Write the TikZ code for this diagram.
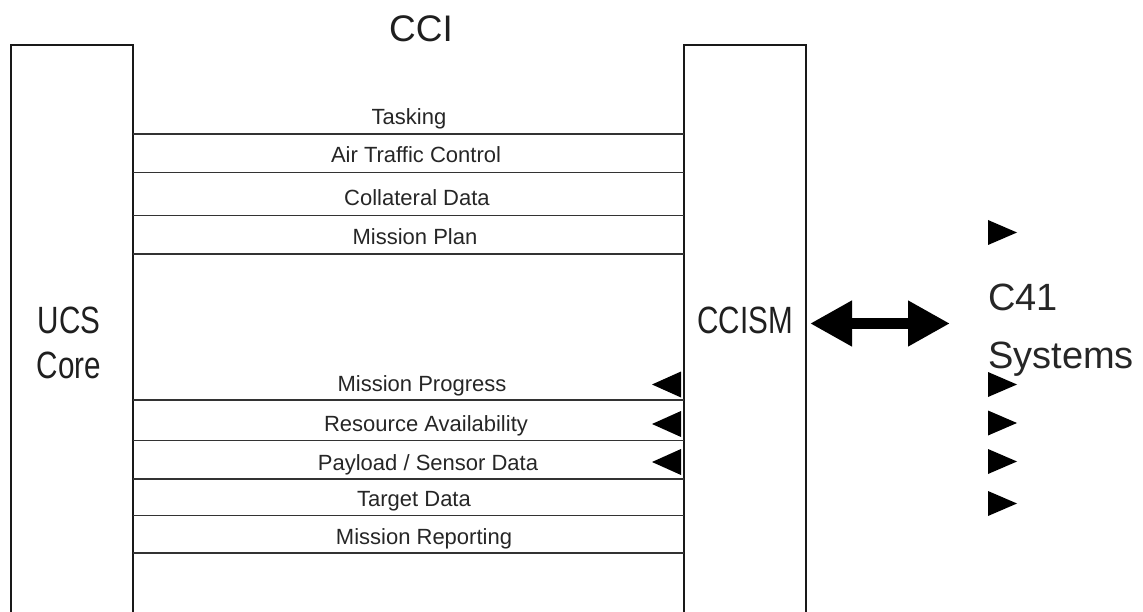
\documentclass[tikz,border=0pt]{standalone}
\usepackage{fontspec}
\setmainfont{Liberation Sans}
\newfontfamily\narrowfont[FakeStretch=0.78]{Liberation Sans}
\usetikzlibrary{arrows.meta}
\begin{document}
\begin{tikzpicture}[x=1pt,y=-1pt,
  panel/.style={draw=black!90, line width=2pt, minimum width=122pt, minimum height=640pt,
                anchor=north west, inner sep=0pt, outer sep=0pt},
  feed/.style={draw=black!80, line width=1.8pt},
  flowlabel/.style={font=\fontsize{22}{26}\selectfont, text=black!85, anchor=base, inner sep=0pt},
  bigname/.style={font=\narrowfont\fontsize{38}{45}\selectfont, text=black!88, inner sep=0pt, anchor=base},
  sidename/.style={font=\fontsize{38}{45}\selectfont, text=black!85, inner sep=0pt, anchor=base west},
  link/.style={line width=11pt, black,
               {Triangle[length=42pt,width=43pt]}-{Triangle[length=42pt,width=43pt]}},
  rtip/.pic={\fill[black] (0,-12.5) -- (29,0) -- (0,12.5) -- cycle;},
  ltip/.pic={\fill[black] (0,-13) -- (-29,0) -- (0,13) -- cycle;}
]
\useasboundingbox (0,0) rectangle (1143,612);
\clip (0,0) rectangle (1143,612);

% the two interface components, open at the bottom
\node[panel] (ucs) at (11,45) {};
\node[panel] (ccism) at (684,45) {};

% title and component names
\node[font=\fontsize{37}{44}\selectfont, text=black!88, inner sep=0pt, anchor=base] (cci) at (421,42) {CCI};
\node[bigname] (ucsname1) at (69,333) {UCS};
\node[bigname] (ucsname2) at (69,378) {Core};
\node[bigname] (ccismname) at (745,334) {CCISM};
\node[sidename] (c41) at (988,310) {C41};
\node[sidename] (systems) at (988,368) {Systems};

% message rows between UCS Core and CCISM
\foreach \name/\yy in {r1/134, r2/172.5, r3/215.5, r4/254, r5/400, r6/440.5, r7/479, r8/515.5, r9/553}
  \coordinate (\name) at (0,\yy);
\foreach \name in {r1,r2,r3,r4,r5,r6,r7,r8,r9}
  \draw[feed] (ucs.east |- \name) -- (ccism.west |- \name);

\node[flowlabel] (m1) at (409,125) {Tasking};
\node[flowlabel] (m2) at (416,163) {Air Traffic Control};
\node[flowlabel] (m3) at (417,206) {Collateral Data};
\node[flowlabel] (m4) at (415,245) {Mission Plan};
\node[flowlabel] (m5) at (422,391) {Mission Progress};
\node[flowlabel] (m6) at (426,431) {Resource Availability};
\node[flowlabel] (m7) at (428,470) {Payload / Sensor Data};
\node[flowlabel] (m8) at (414,506) {Target Data};
\node[flowlabel] (m9) at (424,544) {Mission Reporting};

% direction markers
\pic at (681,384.5) {ltip};
\pic at (681,424) {ltip};
\pic at (681,462) {ltip};
\pic at (988,232.5) {rtip};
\pic at (988,384.5) {rtip};
\pic at (988,423) {rtip};
\pic at (988,461.5) {rtip};
\pic at (988,503.5) {rtip};

% exchange with the C41 systems
\coordinate (mid) at (0,323.5);
\draw[link, shorten <=4pt, shorten >=38pt] (ccism.east |- mid) -- (c41.west |- mid);
\end{tikzpicture}
\end{document}
